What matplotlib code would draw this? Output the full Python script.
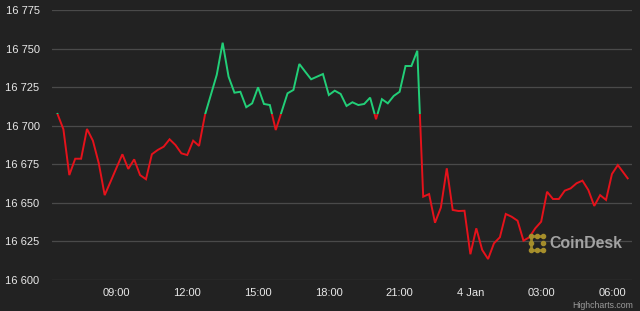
import matplotlib
matplotlib.use('Agg')

import matplotlib.pyplot as plt
import matplotlib.dates as mdates
import pandas as pd
from matplotlib.patches import Rectangle


# =========================
# DATA
# =========================

prices = [
    16707.6, 16697.7, 16668.0, 16678.6, 16678.6, 16697.9, 16690.3, 16675.6,
    16655.0, 16663.8, 16672.7, 16681.5, 16672.0, 16678.2, 16668.0, 16665.3,
    16681.5, 16684.3, 16686.4, 16691.2, 16687.5, 16682.1, 16681.0, 16690.3,
    16686.9, 16707.0, 16720.0, 16733.0, 16753.8, 16731.8, 16721.4, 16722.0,
    16712.0, 16714.5, 16724.9, 16714.1, 16713.4, 16697.2, 16709.1, 16721.0,
    16723.2, 16740.0, 16735.0, 16730.1, 16731.8, 16733.5, 16719.9, 16722.7,
    16720.6, 16712.8, 16715.2, 16713.4, 16714.1, 16718.2, 16704.2, 16717.2,
    16714.5, 16719.3, 16722.0, 16738.7, 16738.7, 16748.6, 16654.0, 16655.7,
    16637.1, 16647.0, 16672.4, 16645.4, 16644.7, 16644.9, 16616.7, 16633.5,
    16619.5, 16613.6, 16623.8, 16627.7, 16642.8, 16641.0, 16638.4, 16625.5,
    16627.7, 16633.5, 16637.8, 16657.2, 16652.5, 16652.5, 16657.9, 16659.4,
    16662.7, 16664.4, 16658.3, 16648.0, 16655.0, 16651.9, 16668.7, 16674.5,
]

last_time = pd.Timestamp('2023-01-04 06:40')
last_price = 16665.9

# opening price: line is green above it, red below
baseline = 16707.5

y_ticks = [16600, 16625, 16650, 16675, 16700, 16725, 16750, 16775]
y_tick_labels = ['16 600', '16 625', '16 650', '16 675',
                 '16 700', '16 725', '16 750', '16 775']

x_tick_times = ['2023-01-03 09:00', '2023-01-03 12:00', '2023-01-03 15:00',
                '2023-01-03 18:00', '2023-01-03 21:00', '2023-01-04 00:00',
                '2023-01-04 03:00', '2023-01-04 06:00']
x_tick_labels = ['09:00', '12:00', '15:00', '18:00', '21:00',
                 '4 Jan', '03:00', '06:00']


# =========================
# BUILD SERIES
# =========================

times = list(pd.date_range('2023-01-03 06:30', periods=len(prices), freq='15min'))
times.append(last_time)

values = prices + [last_price]

t_num = mdates.date2num(times)


# =========================
# FIGURE
# =========================

bg = '#222222'

plt.rcParams['font.family'] = ['Liberation Sans', 'DejaVu Sans']

fig = plt.figure(figsize=(6.4, 3.11), dpi=100, facecolor=bg)

ax = fig.add_axes([52 / 640, 31 / 311, 580 / 640, 270 / 311])
ax.set_facecolor(bg)

x_left = mdates.date2num(pd.Timestamp('2023-01-03 06:16'))
x_right = mdates.date2num(pd.Timestamp('2023-01-04 06:51'))

ax.set_xlim(x_left, x_right)
ax.set_ylim(16600, 16775)


# =========================
# LINE (split at baseline)
# =========================

line_up, = ax.plot(t_num, values, color='#22cf78', lw=1.4,
                   solid_joinstyle='miter', zorder=3)
line_down, = ax.plot(t_num, values, color='#e5121b', lw=1.4,
                     solid_joinstyle='miter', zorder=3)

clip_up = Rectangle((x_left - 1, baseline), 5, 1000,
                    transform=ax.transData)
clip_down = Rectangle((x_left - 1, baseline - 1000), 5, 1000,
                      transform=ax.transData)

line_up.set_clip_path(clip_up)
line_down.set_clip_path(clip_down)


# =========================
# AXES STYLE
# =========================

ax.set_yticks(y_ticks)
ax.set_yticklabels(y_tick_labels)

ax.set_xticks(mdates.date2num(pd.to_datetime(x_tick_times)))
ax.set_xticklabels(x_tick_labels)

ax.grid(True, axis='y', color='#4a4a4a', lw=0.9)
ax.set_axisbelow(True)

for spine in ax.spines.values():
    spine.set_visible(False)

ax.tick_params(axis='both', length=0, colors='#e8e8e8', labelsize=8.0)
ax.tick_params(axis='y', pad=9)
ax.tick_params(axis='x', pad=6)


# =========================
# WATERMARK + CREDITS
# =========================

gold = '#a8902c'

# small dotted "C" logo
logo_x = [531, 531, 531, 537, 543, 537, 543, 543]
logo_y = [236, 243, 250, 236, 236, 250, 250, 243]
fig.add_artist(plt.Line2D([543 / 640, 531 / 640, 531 / 640, 543 / 640],
                          [1 - 236 / 311, 1 - 236 / 311, 1 - 250 / 311, 1 - 250 / 311],
                          color=gold, lw=2.0, alpha=0.9))
fig.add_artist(plt.Line2D([x / 640 for x in logo_x],
                          [1 - y / 311 for y in logo_y],
                          ls='none', marker='o', ms=3.0, color=gold, alpha=0.95))

fig.text(549 / 640, 1 - 243 / 311, 'CoinDesk', color='#a3a3a3',
         fontsize=11.4, fontweight='bold', va='center', ha='left')

fig.text(633 / 640, 1 - 305 / 311, 'Highcharts.com', color='#9a9a9a',
         fontsize=6.3, va='center', ha='right')

fig.savefig('out.png', dpi=100, facecolor=bg)
